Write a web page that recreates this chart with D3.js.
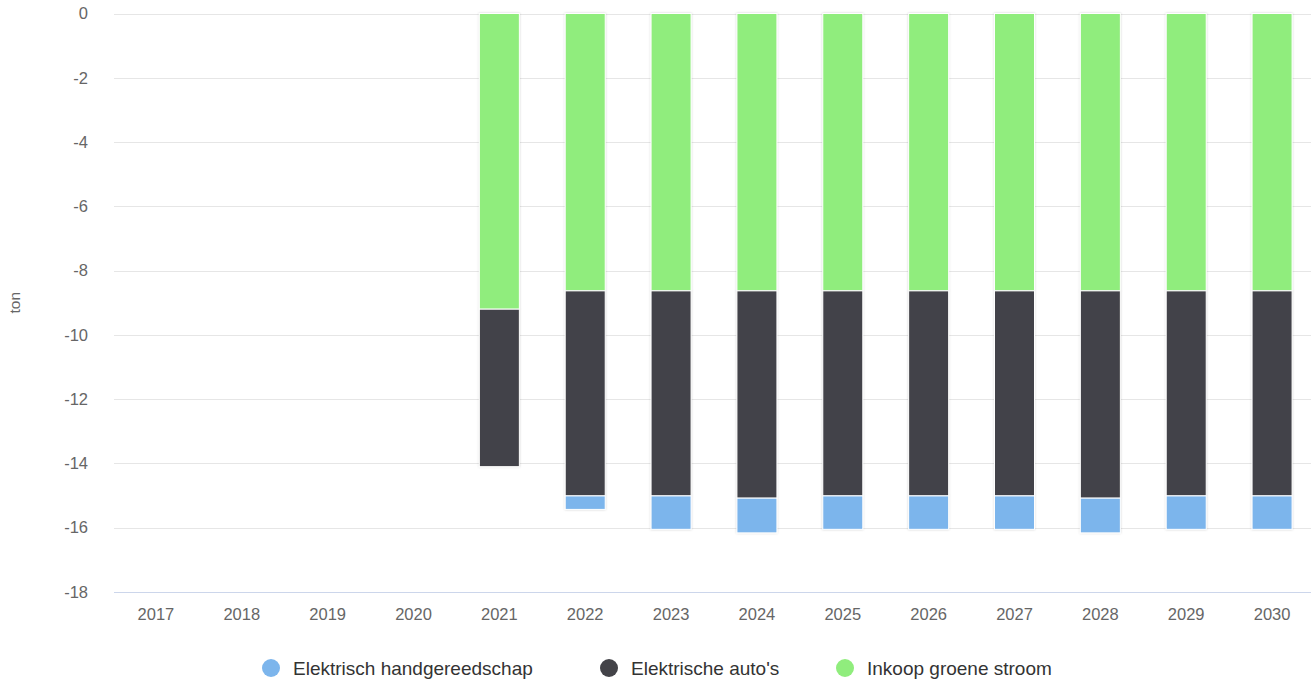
<!DOCTYPE html>
<html>
<head>
<meta charset="utf-8">
<script src="https://cdn.jsdelivr.net/npm/d3@7"></script>
<style>
  body { margin: 0; background: #fff; }
  svg { font-family: "Liberation Sans", Arial, sans-serif; }
</style>
</head>
<body>
<svg id="chart" width="1311" height="684"></svg>
<script>
const years = ["2017","2018","2019","2020","2021","2022","2023","2024","2025","2026","2027","2028","2029","2030"];
const handgereedschap = [0,0,0,0,0,-0.42,-1.04,-1.08,-1.04,-1.04,-1.04,-1.08,-1.04,-1.04];
const autos = [0,0,0,0,-4.9,-6.38,-6.38,-6.45,-6.38,-6.38,-6.38,-6.45,-6.38,-6.38];
const groeneStroom = [0,0,0,0,-9.2,-8.63,-8.63,-8.63,-8.63,-8.63,-8.63,-8.63,-8.63,-8.63];
const yTicks = [0,-2,-4,-6,-8,-10,-12,-14,-16,-18];

const series = [
  { key: "Elektrisch handgereedschap", values: handgereedschap, color: "#7cb5ec" },
  { key: "Elektrische auto's", values: autos, color: "#434348" },
  { key: "Inkoop groene stroom", values: groeneStroom, color: "#90ed7d" }
];

const plotLeft = 113, plotRight = 1315, plotTop = 13.5, plotBottom = 592;
const svg = d3.select("#chart");

// soft edge like the original bars have
const defs = svg.append("defs");
defs.append("filter").attr("id", "edge")
  .attr("x", "-20%").attr("y", "-20%").attr("width", "140%").attr("height", "140%")
  .append("feDropShadow")
  .attr("dx", 0).attr("dy", 0).attr("stdDeviation", 0.8)
  .attr("flood-color", "#000").attr("flood-opacity", 0.18);

const rows = years.map((y, i) => {
  const r = { year: y };
  series.forEach(s => r[s.key] = s.values[i]);
  return r;
});

// stack from zero outwards: green nearest the axis, blue furthest
const stackKeys = series.map(s => s.key).reverse();
const stacked = d3.stack().keys(stackKeys).offset(d3.stackOffsetDiverging)(rows);

const x = d3.scaleBand().domain(years).range([plotLeft, plotRight]).paddingInner(0.534).paddingOuter(0.267);
const y = d3.scaleLinear().domain([-18, 0]).range([plotBottom, plotTop]);

// grid
svg.append("g")
  .selectAll("line")
  .data(yTicks.filter(t => t !== -18))
  .join("line")
  .attr("x1", plotLeft + 1).attr("x2", 1311)
  .attr("y1", d => Math.round(y(d)) + 0.5).attr("y2", d => Math.round(y(d)) + 0.5)
  .attr("stroke", "#e6e6e6");

// y labels
svg.append("g")
  .selectAll("text")
  .data(yTicks)
  .join("text")
  .attr("x", 88)
  .attr("y", d => y(d))
  .attr("dy", "0.35em")
  .attr("text-anchor", "end")
  .attr("fill", "#666")
  .style("font-size", "16.5px")
  .text(d => d);

svg.append("text")
  .attr("transform", `translate(15,${(plotTop + plotBottom) / 2}) rotate(-90)`)
  .attr("text-anchor", "middle")
  .attr("dy", "0.35em")
  .attr("fill", "#666")
  .style("font-size", "15.5px")
  .text("ton");

// bars
const colorOf = k => series.find(s => s.key === k).color;
svg.append("g")
  .attr("filter", "url(#edge)")
  .selectAll("g")
  .data(stacked)
  .join("g")
  .attr("fill", d => colorOf(d.key))
  .selectAll("rect")
  .data(d => d.filter(p => p[0] !== p[1]))
  .join("rect")
  .attr("x", d => x(d.data.year))
  .attr("width", x.bandwidth())
  .attr("y", d => y(Math.max(d[0], d[1])))
  .attr("height", d => Math.abs(y(d[0]) - y(d[1])))
  .attr("stroke", "#fff")
  .attr("stroke-width", 1);

// x axis
svg.append("line")
  .attr("x1", plotLeft + 1).attr("x2", 1311)
  .attr("y1", Math.round(y(-18)) + 0.5).attr("y2", Math.round(y(-18)) + 0.5)
  .attr("stroke", "#ccd6eb");

svg.append("g")
  .selectAll("text")
  .data(years)
  .join("text")
  .attr("x", d => x(d) + x.bandwidth() / 2)
  .attr("y", 614)
  .attr("dy", "0.35em")
  .attr("text-anchor", "middle")
  .attr("fill", "#666")
  .style("font-size", "16.5px")
  .text(d => d);

// legend
const legendX = [271, 609, 845];
const lg = svg.append("g")
  .selectAll("g")
  .data(series)
  .join("g")
  .attr("transform", (d, i) => `translate(${legendX[i]},668)`);
lg.append("circle").attr("r", 9).attr("fill", d => d.color);
lg.append("text")
  .attr("x", 22)
  .attr("dy", "0.35em")
  .attr("fill", "#333")
  .style("font-size", "19px")
  .text(d => d.key);
</script>
</body>
</html>
